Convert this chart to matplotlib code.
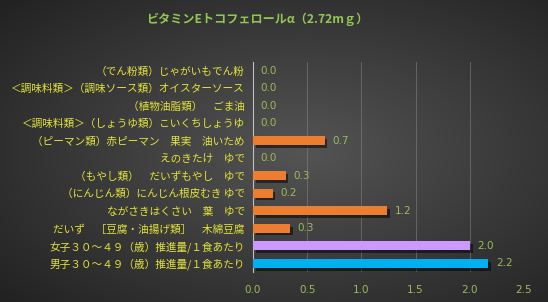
"""Vitamin E (alpha-tocopherol) horizontal bar chart on a dark gradient background."""

import matplotlib

matplotlib.use("Agg")
import matplotlib.pyplot as plt
import matplotlib.patheffects as pe
import numpy as np

plt.rcParams["font.family"] = ["Noto Sans CJK JP", "DejaVu Sans"]

TITLE = "ビタミンEトコフェロールα（2.72mｇ）"

labels = [
    "（でん粉類）じゃがいもでん粉",
    "＜調味料類＞（調味ソース類）オイスターソース",
    "（植物油脂類）　ごま油",
    "＜調味料類＞（しょうゆ類）こいくちしょうゆ",
    "（ピーマン類）赤ピーマン　果実　油いため",
    "えのきたけ　ゆで",
    "（もやし類）　だいずもやし　ゆで",
    "（にんじん類）にんじん根皮むき ゆで",
    "ながさきはくさい　葉　ゆで",
    "だいず　［豆腐・油揚げ類］　木綿豆腐",
    "女子３０～４９（歳）推進量/１食あたり",
    "男子３０～４９（歳）推進量/１食あたり",
]
values = [0.0, 0.0, 0.0, 0.0, 0.66, 0.0, 0.30, 0.18, 1.24, 0.34, 2.0, 2.17]
bar_colors = ["#ed7d31"] * 10 + ["#cc99ff", "#00b0f0"]
xticks = [0.0, 0.5, 1.0, 1.5, 2.0, 2.5]

LABEL_COLOR = "#e3e33a"
VALUE_COLOR = "#9bbb59"

fig = plt.figure(figsize=(5.48, 3.02), dpi=100)

# radial gradient background
bg = fig.add_axes([0, 0, 1, 1], zorder=-10)
gx, gy = np.meshgrid(np.linspace(0, 1, 300), np.linspace(0, 1, 200))
r = np.sqrt(((gx - 0.55) / 0.75) ** 2 + ((gy - 0.5) / 0.75) ** 2)
shade = np.clip(0.33 - 0.20 * r, 0.12, 0.35)
bg.imshow(np.dstack([shade] * 3), extent=[0, 1, 0, 1], aspect="auto",
          interpolation="bicubic")
bg.axis("off")

ax = fig.add_axes([0.4617, 0.099, 0.4945, 0.696])
ax.patch.set_alpha(0)

y = np.arange(len(labels))[::-1]
bars = ax.barh(y, values, height=0.5, color=bar_colors, zorder=3)
for b in bars:
    b.set_path_effects([pe.SimplePatchShadow(offset=(2, -2), shadow_rgbFace="black",
                                             alpha=0.5), pe.Normal()])

for yi, v in zip(y, values):
    ax.text(v + 0.07, yi, f"{v:.1f}", va="center", ha="left", fontsize=7.5,
            color=VALUE_COLOR, family=["DejaVu Sans"])

ax.set_ylim(-0.5, len(labels) - 0.5)
ax.set_xlim(0, 2.5)
ax.set_xticks(xticks)
ax.set_xticklabels([f"{t:.1f}" for t in xticks], color=VALUE_COLOR, fontsize=7.5,
                   family=["DejaVu Sans"])
ax.set_yticks(y)
ax.set_yticklabels(labels, color=LABEL_COLOR, fontsize=7.7)
ax.tick_params(axis="both", length=0)
ax.tick_params(axis="x", pad=9)
ax.tick_params(axis="y", pad=6)
for s in ["top", "right", "bottom"]:
    ax.spines[s].set_visible(False)
ax.spines["left"].set_color("#bfbfbf")
ax.spines["left"].set_linewidth(0.8)
ax.grid(axis="x", color="#8a8a8a", lw=0.6, alpha=0.6, zorder=0)
ax.set_axisbelow(True)

fig.text(0.47, 0.935, TITLE, ha="center", va="center", fontsize=8.7,
         fontweight="bold", color="#92c850")

fig.savefig("out.png", dpi=100)
